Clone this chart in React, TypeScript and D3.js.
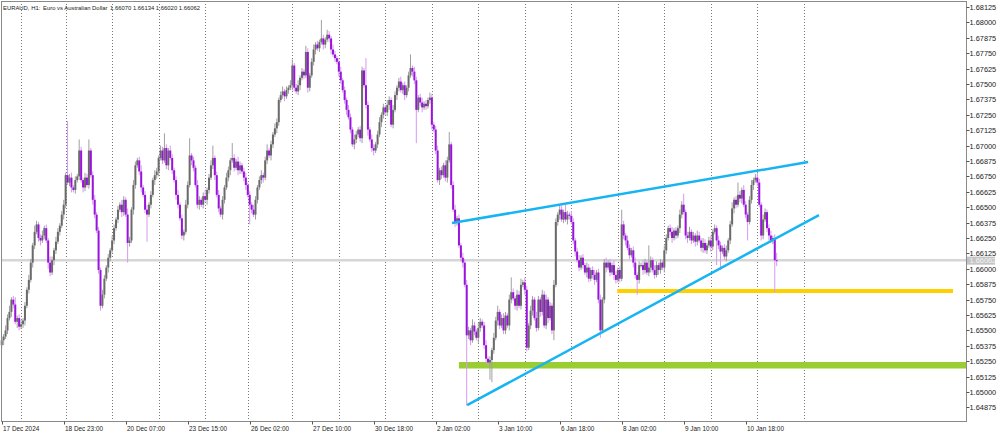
import React from "react";
import * as d3 from "d3";

// ---- data (EURAUD H1) ----
const firstOpen = 1.6538;
const closes = [
  1.6542,1.6545,1.6550,1.6560,1.6565,1.6575,1.6571,1.6557,1.6560,1.6553,
  1.6555,1.6558,1.6570,1.6583,1.6591,1.6605,1.6619,1.6630,1.6636,1.6625,
  1.6623,1.6627,1.6633,1.6623,1.6605,1.6597,1.6607,1.6615,1.6622,1.6630,
  1.6635,1.6644,1.6652,1.6676,1.6670,1.6674,1.6666,1.6664,1.6672,1.6675,
  1.6696,1.6672,1.6666,1.6674,1.6668,1.6696,1.6676,1.6656,1.6644,1.6631,
  1.6599,1.6570,1.6579,1.6592,1.6601,1.6609,1.6615,1.6623,1.6633,1.6640,
  1.6648,1.6652,1.6646,1.6656,1.6644,1.6621,1.6623,1.6648,1.6668,1.6684,
  1.6688,1.6679,1.6666,1.6660,1.6648,1.6644,1.6652,1.6660,1.6672,1.6676,
  1.6679,1.6690,1.6696,1.6688,1.6698,1.6684,1.6696,1.6690,1.6680,1.6672,
  1.6660,1.6652,1.6641,1.6627,1.6630,1.6652,1.6668,1.6692,1.6688,1.6682,
  1.6668,1.6652,1.6656,1.6652,1.6659,1.6656,1.6664,1.6674,1.6684,1.6690,
  1.6676,1.6660,1.6649,1.6644,1.6656,1.6666,1.6674,1.6680,1.6688,1.6690,
  1.6682,1.6687,1.6680,1.6684,1.6679,1.6674,1.6668,1.6660,1.6652,1.6648,
  1.6644,1.6656,1.6666,1.6672,1.6676,1.6674,1.6688,1.6696,1.6692,1.6701,
  1.6709,1.6714,1.6719,1.6737,1.6741,1.6744,1.6740,1.6745,1.6747,1.6749,
  1.6765,1.6747,1.6744,1.6749,1.6755,1.6760,1.6757,1.6776,1.6747,1.6757,
  1.6768,1.6778,1.6782,1.6779,1.6784,1.6787,1.6782,1.6786,1.6790,1.6787,
  1.6778,1.6774,1.6771,1.6768,1.6760,1.6753,1.6745,1.6737,1.6729,1.6723,
  1.6713,1.6701,1.6705,1.6709,1.6713,1.6706,1.6761,1.6749,1.6733,1.6713,
  1.6705,1.6698,1.6696,1.6701,1.6709,1.6719,1.6725,1.6731,1.6727,1.6733,
  1.6737,1.6717,1.6729,1.6741,1.6747,1.6752,1.6745,1.6749,1.6741,1.6747,
  1.6757,1.6763,1.6760,1.6753,1.6729,1.6739,1.6735,1.6731,1.6734,1.6732,
  1.6737,1.6739,1.6717,1.6713,1.6696,1.6672,1.6680,1.6676,1.6684,1.6674,
  1.6688,1.6701,1.6668,1.6648,1.6638,1.6641,1.6619,1.6609,1.6605,1.6587,
  1.6546,1.6550,1.6542,1.6554,1.6549,1.6544,1.6552,1.6557,1.6554,1.6538,
  1.6527,1.6524,1.6526,1.6534,1.6544,1.6558,1.6565,1.6554,1.6560,1.6550,
  1.6562,1.6554,1.6575,1.6581,1.6576,1.6570,1.6579,1.6570,1.6587,1.6589,
  1.6583,1.6536,1.6554,1.6566,1.6575,1.6560,1.6552,1.6575,1.6565,1.6579,
  1.6554,1.6575,1.6560,1.6570,1.6550,1.6587,1.6638,1.6644,1.6648,1.6640,
  1.6646,1.6640,1.6644,1.6643,1.6638,1.6623,1.6614,1.6607,1.6601,1.6609,
  1.6603,1.6597,1.6601,1.6592,1.6599,1.6595,1.6591,1.6597,1.6575,1.6550,
  1.6575,1.6605,1.6601,1.6605,1.6597,1.6603,1.6595,1.6591,1.6599,1.6592,
  1.6636,1.6627,1.6623,1.6617,1.6611,1.6615,1.6605,1.6595,1.6591,1.6603,
  1.6603,1.6599,1.6605,1.6597,1.6601,1.6607,1.6599,1.6595,1.6603,1.6599,
  1.6605,1.6601,1.6615,1.6625,1.6633,1.6630,1.6625,1.6631,1.6627,1.6633,
  1.6644,1.6652,1.6646,1.6627,1.6625,1.6630,1.6623,1.6627,1.6622,1.6627,
  1.6623,1.6617,1.6621,1.6615,1.6619,1.6623,1.6618,1.6630,1.6633,1.6623,
  1.6619,1.6614,1.6617,1.6610,1.6615,1.6623,1.6636,1.6649,1.6656,1.6652,
  1.6660,1.6657,1.6664,1.6652,1.6644,1.6638,1.6656,1.6668,1.6672,1.6674,
  1.6670,1.6652,1.6627,1.6640,1.6646,1.6633,1.6627,1.6623,1.6625,1.6607,
  1.66062,
];
// upper / lower shadow length beyond the body, in pips
const wickUp = [
  3,2,4,3,5,2,3,6,2,3,4,2,3,2,4,3,2,5,3,2,
  3,4,2,3,2,5,3,2,4,3,2,3,4,2,44,3,4,2,3,2,
  9,3,2,4,3,9,2,3,4,2,3,2,4,3,2,3,2,4,3,2,
  3,2,4,3,2,5,3,2,4,3,2,3,5,2,3,4,2,3,2,4,
  3,2,4,3,12,3,2,4,3,2,3,4,2,3,2,4,3,14,2,3,
  2,4,3,2,3,5,2,3,4,10,2,3,4,2,3,2,4,3,2,12,
  3,2,4,3,2,3,4,2,3,2,4,3,2,3,4,2,3,5,2,3,
  2,4,3,2,3,4,2,3,2,4,5,2,3,4,2,3,2,5,3,2,
  3,4,2,3,2,15,3,2,4,3,2,4,3,2,3,4,2,3,2,4,
  3,2,4,3,2,3,3,2,22,3,2,4,3,2,3,4,2,3,2,4,
  3,2,4,3,2,3,4,2,3,2,3,11,2,4,3,2,3,4,2,3,
  2,4,3,2,3,4,2,3,2,4,3,10,2,3,4,2,3,2,4,3,
  4,3,2,5,3,2,4,3,2,3,4,2,3,2,4,3,5,2,3,4,
  3,2,4,12,3,2,4,3,5,2,4,3,2,4,3,2,5,3,2,4,
  3,4,2,3,2,4,3,2,4,3,2,6,3,2,4,3,2,3,4,2,
  3,2,4,3,2,3,4,2,3,4,2,3,4,2,3,2,4,3,2,3,
  12,3,2,4,3,2,3,4,2,3,2,4,3,2,18,3,2,4,3,2,
  3,2,4,3,2,3,4,2,3,2,4,3,9,2,3,4,2,3,2,4,
  3,2,4,3,2,3,4,2,3,2,4,3,2,3,4,2,3,5,2,3,
  10,3,2,4,3,2,3,4,2,3,4,3,2,4,3,2,3,4,2,3,
  6,
];
const wickDown = [
  3,4,2,3,2,4,3,2,5,3,2,3,4,2,3,2,4,3,2,3,
  4,2,3,2,5,3,2,4,3,2,3,2,4,3,2,3,4,2,3,2,
  3,2,4,3,2,3,2,4,3,2,3,4,2,3,2,4,3,2,3,2,
  3,2,4,3,2,16,3,2,4,3,2,3,4,2,3,22,2,3,2,4,
  3,4,2,3,2,3,4,2,3,2,4,3,2,3,4,2,3,2,4,3,
  2,3,4,2,3,2,4,3,2,3,4,2,3,2,4,3,2,3,4,2,
  3,2,4,3,2,3,4,2,16,3,2,4,3,2,3,4,2,3,2,4,
  3,2,4,3,2,3,4,2,3,2,4,3,2,3,4,2,3,2,4,3,
  2,3,4,2,3,2,4,3,2,3,4,2,3,2,4,3,2,3,4,2,
  3,2,4,3,2,3,4,2,3,5,2,3,4,2,3,2,4,3,2,3,
  4,2,3,2,4,3,2,3,4,2,3,2,4,3,27,2,3,4,2,3,
  2,3,4,2,3,2,4,3,2,3,4,2,3,2,4,3,2,3,4,2,
  57,3,4,2,3,2,4,3,2,3,4,2,14,18,3,2,4,3,2,3,
  3,2,4,3,2,3,4,2,3,2,4,3,2,3,4,2,3,2,4,3,
  2,3,4,2,3,8,2,3,4,2,3,2,4,3,2,3,4,2,3,2,
  3,2,4,3,2,3,4,2,3,6,2,3,4,2,3,2,4,3,2,3,
  2,3,4,2,3,2,4,3,12,3,2,4,3,2,3,4,2,3,2,4,
  3,2,4,3,2,3,4,2,3,2,4,3,2,3,4,2,3,2,4,3,
  2,3,4,2,3,2,4,3,2,20,3,15,2,3,4,2,3,2,4,3,
  2,3,4,2,3,15,2,3,4,2,3,2,4,3,2,3,4,2,3,26,
  4,
];

const priceTicks = [
  "1.68125","1.68000","1.67875","1.67750","1.67625","1.67500","1.67375","1.67250","1.67125",
  "1.67000","1.66875","1.66750","1.66625","1.66500","1.66375","1.66250","1.66125","1.66000",
  "1.65875","1.65750","1.65625","1.65500","1.65375","1.65250","1.65125","1.65000","1.64875",
];
const timeLabelBars = [0, 32, 64, 96, 128, 160, 192, 224, 256, 288, 320, 352, 384];
const timeLabels = [
  "17 Dec 2024","18 Dec 23:00","20 Dec 07:00","23 Dec 15:00","26 Dec 02:00","27 Dec 10:00",
  "30 Dec 18:00","2 Jan 02:00","3 Jan 10:00","6 Jan 18:00","8 Jan 02:00","9 Jan 10:00","10 Jan 18:00",
];
const gridBars = [10, 33, 57, 81, 105, 127, 150, 174, 198, 222, 246, 270, 294, 318, 342, 366, 390, 414];

const upperTrend = [{ bar: 232.4, price: 1.66371 }, { bar: 416.2, price: 1.66867 }];
const lowerTrend = [{ bar: 240.2, price: 1.64893 }, { bar: 421.8, price: 1.66436 }];
const yellowLevel = { from: 317.7, to: 491, price: 1.65819 };
const greenLevel = { from: 236, to: 497.7, price: 1.65218 };

const titleParts = ["EURAUD, H1:", "Euro vs Australian Dollar", "1.66070 1.66134 1.66020 1.66062"];
const lastPriceLabel = "1.66062";

const W = 1000, H = 434;
const FRAME = { left: 1, top: 1, right: 966, bottom: 421 };
const FONT = "'Liberation Sans', Arial, sans-serif";

export default function App() {
  const x = d3.scaleLinear().domain([0, 400]).range([1.7, 776.7]);
  const y = d3.scaleLinear().domain([1.64875, 1.68125]).range([407.4, 7]);

  const candles = closes.map((c, i) => {
    const o = i === 0 ? firstOpen : closes[i - 1];
    const hi = Math.max(o, c) + wickUp[i] * 0.0001;
    const lo = Math.min(o, c) - wickDown[i] * 0.0001;
    return { i, o, c, hi, lo, bull: c >= o };
  });

  const line = d3.line<{ bar: number; price: number }>().x(d => x(d.bar)).y(d => y(d.price));
  const lastClose = closes[closes.length - 1];
  const titleX = [3, 43, 110];

  return (
    <svg width={W} height={H} style={{ position: "absolute", left: 0, top: 0, background: "#fff" }}>
      <rect x={0} y={0} width={W} height={H} fill="#fff" />
      {gridBars.map(b => (
        <line key={b} x1={Math.round(x(b)) + 0.5} x2={Math.round(x(b)) + 0.5} y1={FRAME.top} y2={FRAME.bottom}
          stroke="#7a7a7a" strokeWidth={1} strokeDasharray="1,2" />
      ))}
      <line x1={FRAME.left} x2={FRAME.right} y1={y(lastClose) - 1} y2={y(lastClose) - 1} stroke="#d6d6d6" strokeWidth={2.5} />
      <line x1={x(greenLevel.from)} x2={x(greenLevel.to)} y1={y(greenLevel.price)} y2={y(greenLevel.price)}
        stroke="#9acd32" strokeWidth={6.5} />
      <line x1={x(yellowLevel.from)} x2={x(yellowLevel.to)} y1={y(yellowLevel.price)} y2={y(yellowLevel.price)}
        stroke="#ffd000" strokeWidth={4} />
      {candles.map(d => {
        const cx = x(d.i);
        const top = y(Math.max(d.o, d.c));
        const bot = y(Math.min(d.o, d.c));
        return (
          <g key={d.i}>
            <line x1={cx} x2={cx} y1={y(d.hi)} y2={y(d.lo)} stroke={d.bull ? "#a0a0a0" : "#d49af2"} strokeWidth={1} />
            <rect x={cx - 1} y={top} width={2} height={Math.max(1, bot - top)} fill={d.bull ? "#6a6a6a" : "#9a12dc"} />
          </g>
        );
      })}
      <path d={line(upperTrend) || ""} stroke="#16b4f2" strokeWidth={2.5} fill="none" />
      <path d={line(lowerTrend) || ""} stroke="#16b4f2" strokeWidth={2.5} fill="none" />
      <rect x={FRAME.left + 0.5} y={FRAME.top + 0.5} width={FRAME.right - FRAME.left} height={FRAME.bottom - FRAME.top}
        fill="none" stroke="#8a8a8a" strokeWidth={1} />
      {titleParts.map((t, k) => (
        <text key={k} x={titleX[k]} y={9.5} fontFamily={FONT} fontSize={5.9} fill="#222">{t}</text>
      ))}
      {priceTicks.map(t => {
        const yy = Math.round(y(+t)) + 0.5;
        return (
          <g key={t}>
            <line x1={FRAME.right + 0.5} x2={FRAME.right + 3.5} y1={yy} y2={yy} stroke="#555" />
            <text x={969.5} y={yy + 2.6} fontFamily={FONT} fontSize={7.4} fill="#222">{t}</text>
          </g>
        );
      })}
      <rect x={967} y={y(lastClose) - 4.5} width={28} height={8} fill="#c4c4c4" />
      <text x={969.5} y={y(lastClose) + 2.2} fontFamily={FONT} fontSize={7.4} fill="#f4f4f4">{lastPriceLabel}</text>
      {timeLabelBars.map((b, k) => {
        const xx = Math.round(x(b)) + 0.5;
        return (
          <g key={b}>
            <line x1={xx} x2={xx} y1={FRAME.bottom + 0.5} y2={FRAME.bottom + 3.5} stroke="#555" />
            <text x={xx + 0.5} y={431} fontFamily={FONT} fontSize={6.4} fill="#222">{timeLabels[k]}</text>
          </g>
        );
      })}
    </svg>
  );
}
